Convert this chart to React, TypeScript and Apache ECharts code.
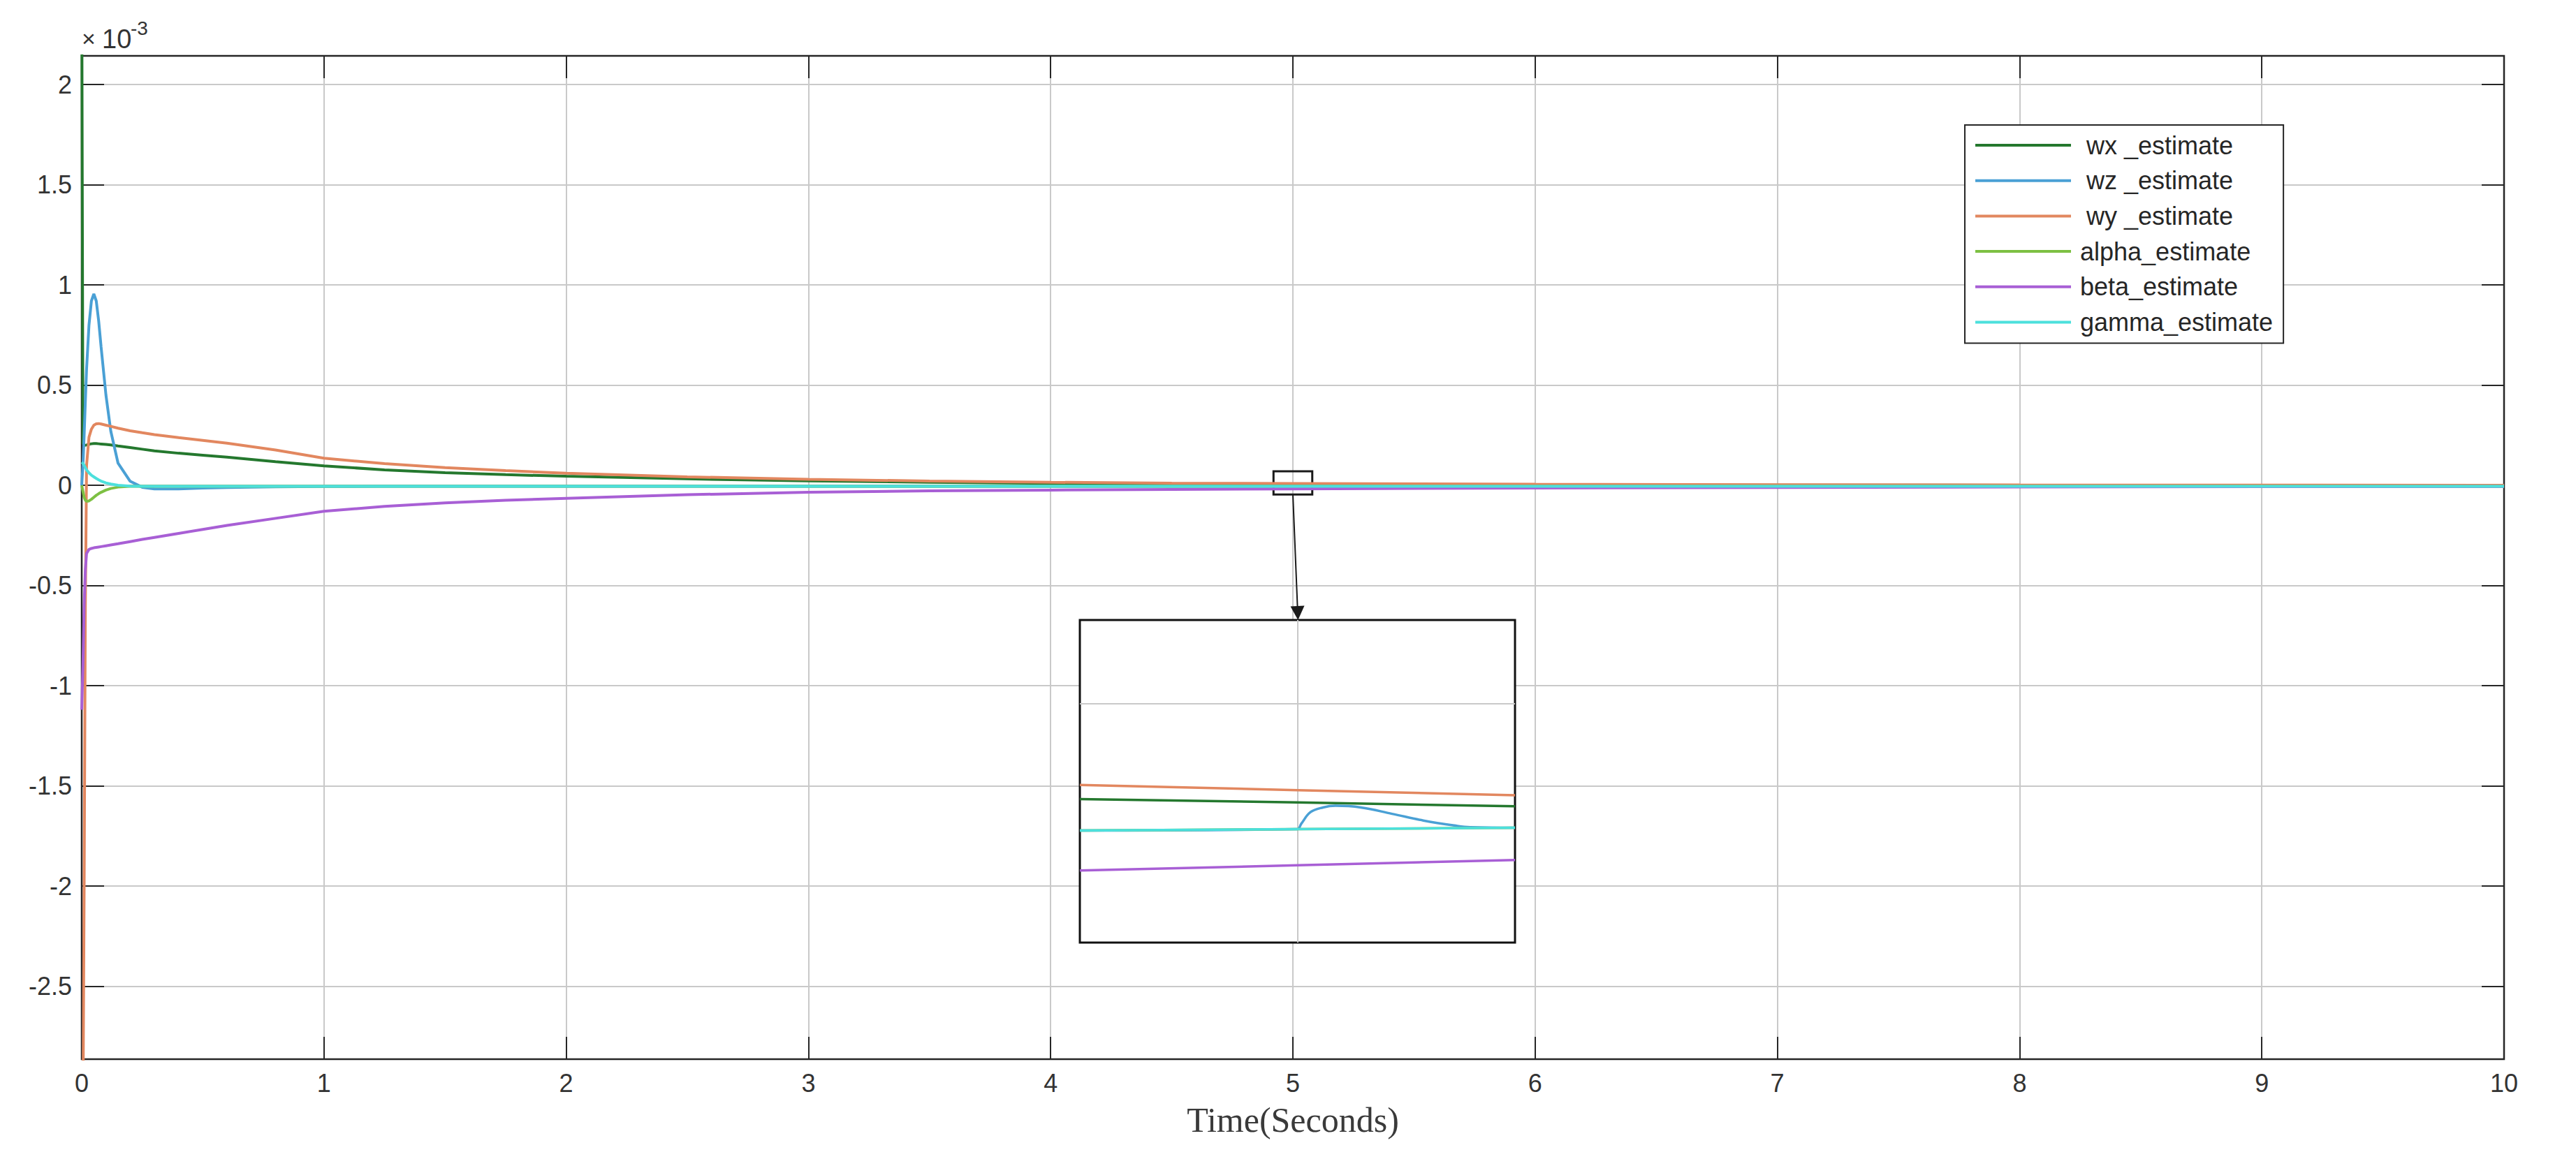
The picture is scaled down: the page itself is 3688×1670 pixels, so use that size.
import React, { useEffect, useRef } from 'react';
import * as echarts from 'echarts';

// ---- main time axis (seconds) ----
const T = [0, 0.005, 0.01, 0.015, 0.02, 0.03, 0.04, 0.05, 0.06, 0.07, 0.08, 0.1, 0.12, 0.15, 0.2, 0.25, 0.3, 0.4, 0.5, 0.6, 0.8, 1, 1.25, 1.5, 1.75, 2, 2.5, 3, 3.5, 4, 4.5, 5, 6, 7, 8, 9, 10];

// ---- series values (x 10^-3) ----
const WX = [2.6, 0.21, 0.2, 0.2, 0.201, 0.205, 0.207, 0.208, 0.208, 0.207, 0.206, 0.204, 0.201, 0.196, 0.188, 0.18, 0.172, 0.16, 0.15, 0.14, 0.118, 0.097, 0.077, 0.063, 0.053, 0.045, 0.032, 0.022, 0.015, 0.01, 0.007, 0.0044, 0.002, 0.001, 0.0005, 0.0003, 0.0002];
const WZ = [0, 0.1, 0.25, 0.42, 0.58, 0.8, 0.92, 0.955, 0.92, 0.82, 0.69, 0.45, 0.27, 0.11, 0.02, -0.01, -0.018, -0.018, -0.014, -0.011, -0.008, -0.006, -0.0055, -0.0055, -0.0055, -0.0055, -0.0055, -0.0055, -0.0055, -0.0055, -0.0055, -0.0054, -0.005, -0.005, -0.005, -0.005, -0.005];
const WY = [-3.5, -3.2, -2.0, -0.6, 0.1, 0.24, 0.28, 0.3, 0.307, 0.308, 0.306, 0.3, 0.294, 0.285, 0.272, 0.262, 0.253, 0.238, 0.224, 0.21, 0.176, 0.135, 0.108, 0.088, 0.073, 0.06, 0.042, 0.03, 0.021, 0.015, 0.011, 0.009, 0.005, 0.003, 0.0015, 0.0008, 0.0004];
const ALPHA = [0, -0.03, -0.06, -0.075, -0.08, -0.078, -0.07, -0.06, -0.05, -0.042, -0.035, -0.024, -0.016, -0.009, -0.005, -0.005, -0.005, -0.005, -0.005, -0.005, -0.005, -0.005, -0.005, -0.005, -0.005, -0.005, -0.005, -0.005, -0.005, -0.005, -0.005, -0.0052, -0.005, -0.005, -0.005, -0.005, -0.005];
const BETA = [-1.12, -0.9, -0.6, -0.42, -0.34, -0.32, -0.315, -0.312, -0.31, -0.308, -0.306, -0.302, -0.298, -0.292, -0.281, -0.27, -0.26, -0.24, -0.22, -0.2, -0.165, -0.13, -0.105, -0.088, -0.075, -0.065, -0.047, -0.035, -0.028, -0.024, -0.021, -0.018, -0.014, -0.011, -0.009, -0.007, -0.006];
const GAMMA = [0.115, 0.11, 0.1, 0.088, 0.077, 0.062, 0.05, 0.042, 0.034, 0.027, 0.021, 0.012, 0.006, 0.0, -0.004, -0.005, -0.005, -0.005, -0.005, -0.005, -0.005, -0.005, -0.005, -0.005, -0.005, -0.005, -0.005, -0.005, -0.005, -0.005, -0.005, -0.0052, -0.005, -0.005, -0.005, -0.005, -0.005];

// ---- zoomed inset (t = 4.92 .. 5.08 s) ----
const INSET_T = [4.92, 5.0, 5.08];
const INSET_WX = [0.0056, 0.0044, 0.003];
const INSET_WY = [0.0107, 0.0088, 0.007];
const INSET_ALPHA = [-0.0057, -0.0052, -0.0047];
const INSET_BETA = [-0.0201, -0.0182, -0.0163];
const INSET_GAMMA = [-0.0057, -0.0052, -0.0047];
const INSET_WZ_T = [4.92, 5.0, 5.0014, 5.0048, 5.0094, 5.014, 5.0233, 5.0348, 5.0463, 5.0578, 5.0635, 5.08];
const INSET_WZ = [-0.0057, -0.0052, -0.0033, 0.0009, 0.0026, 0.0032, 0.0026, 0.0003, -0.0021, -0.0039, -0.0045, -0.0047];

const INSET_X_RANGE = [4.92, 5.08];
const INSET_Y_RANGE = [-0.046, 0.07];
const INSET_GRID_X = 5.0;
const INSET_GRID_Y = 0.0367;
const ARROW_END = [5.02, -0.6375];

// ---- axes ----
const X_RANGE = [0, 10];
const X_STEP = 1;
const Y_RANGE = [-2.864, 2.143];
const Y_STEP = 0.5;

const NAMES = ['wx _estimate', 'wz _estimate', 'wy _estimate', 'alpha_estimate', 'beta_estimate', 'gamma_estimate'];
const COLORS = ['#24782e', '#4aa0d5', '#e2875f', '#7dc043', '#a85fd5', '#4ce0dc'];

const FONT = 'Liberation Sans, Arial, Helvetica, sans-serif';
const AX = '#333333';
const GRID_COLOR = '#c9c9c9';

function pairs(xs: number[], ys: number[]) {
  return xs.map((x, i) => [x, ys[i]]);
}

export default function App() {
  const ref = useRef<HTMLDivElement>(null);
  useEffect(() => {
    const chart = echarts.init(ref.current!, null, { renderer: 'svg' });
    const mainVals = [WX, WZ, WY, ALPHA, BETA, GAMMA];
    const insetData = [
      pairs(INSET_T, INSET_WX),
      pairs(INSET_WZ_T, INSET_WZ),
      pairs(INSET_T, INSET_WY),
      pairs(INSET_T, INSET_ALPHA),
      pairs(INSET_T, INSET_BETA),
      pairs(INSET_T, INSET_GAMMA),
    ];
    const mainSeries: any[] = NAMES.map((name, i) => ({
      name,
      type: 'line',
      xAxisIndex: 0,
      yAxisIndex: 0,
      data: pairs(T, mainVals[i]),
      symbol: 'none',
      clip: true,
      color: COLORS[i],
      lineStyle: { width: 4, color: COLORS[i] },
      silent: true,
    }));
    mainSeries[5].markArea = {
      silent: true,
      itemStyle: { color: 'rgba(0,0,0,0)', borderColor: '#1a1a1a', borderWidth: 3 },
      label: { show: false },
      data: [[{ coord: [INSET_X_RANGE[0], INSET_Y_RANGE[1]] }, { coord: [INSET_X_RANGE[1], INSET_Y_RANGE[0]] }]],
    };
    mainSeries[5].markLine = {
      silent: true,
      symbol: ['none', 'triangle'],
      symbolSize: [20, 20],
      label: { show: false },
      lineStyle: { color: '#1a1a1a', width: 2, type: 'solid' },
      data: [[{ coord: [INSET_GRID_X, INSET_Y_RANGE[0]] }, { coord: ARROW_END }]],
    };
    const insetSeries: any[] = NAMES.map((name, i) => ({
      name,
      type: 'line',
      xAxisIndex: 2,
      yAxisIndex: 2,
      data: insetData[i],
      symbol: 'none',
      smooth: i === 1 ? 0.4 : false,
      clip: true,
      color: COLORS[i],
      lineStyle: { width: 3.5, color: COLORS[i] },
      silent: true,
    }));
    insetSeries[0].markLine = {
      silent: true,
      z: 1,
      symbol: ['none', 'none'],
      label: { show: false },
      lineStyle: { color: GRID_COLOR, width: 2, type: 'solid' },
      data: [{ xAxis: INSET_GRID_X }, { yAxis: INSET_GRID_Y }],
    };

    const tick = { show: true, inside: true, length: 32, lineStyle: { color: '#262626', width: 2 } };

    chart.setOption({
      animation: false,
      backgroundColor: '#ffffff',
      grid: [
        { left: 117, top: 80, width: 3468, height: 1437, show: true, z: 1, backgroundColor: 'rgba(0,0,0,0)', borderColor: '#262626', borderWidth: 2.5 },
        { left: 1546, top: 888, width: 623, height: 462, show: true, z: 1, backgroundColor: '#ffffff', borderColor: '#111111', borderWidth: 3 },
      ],
      xAxis: [
        {
          gridIndex: 0, type: 'value', position: 'bottom', min: X_RANGE[0], max: X_RANGE[1], interval: X_STEP,
          axisLine: { show: false, onZero: false }, axisTick: tick,
          axisLabel: { fontSize: 36, color: AX, fontFamily: FONT, margin: 16 },
          splitLine: { show: true, lineStyle: { color: GRID_COLOR, width: 2 } },
          name: 'Time(Seconds)', nameLocation: 'middle', nameGap: 62,
          nameTextStyle: { fontSize: 50, color: '#3a3a3a', fontFamily: 'Liberation Serif, Times New Roman, serif' },
        },
        {
          gridIndex: 0, type: 'value', position: 'top', min: X_RANGE[0], max: X_RANGE[1], interval: X_STEP,
          axisLine: { show: false, onZero: false }, axisTick: tick, axisLabel: { show: false }, splitLine: { show: false },
        },
        { gridIndex: 1, type: 'value', min: INSET_X_RANGE[0], max: INSET_X_RANGE[1], show: false, splitLine: { show: false } },
      ],
      yAxis: [
        {
          gridIndex: 0, type: 'value', position: 'left', min: Y_RANGE[0], max: Y_RANGE[1],
          splitNumber: 10, minInterval: Y_STEP, maxInterval: Y_STEP,
          axisLine: { show: false, onZero: false }, axisTick: tick,
          axisLabel: { fontSize: 36, color: AX, fontFamily: FONT, margin: 14, showMinLabel: false, showMaxLabel: false },
          splitLine: { show: true, lineStyle: { color: GRID_COLOR, width: 2 } },
        },
        {
          gridIndex: 0, type: 'value', position: 'right', min: Y_RANGE[0], max: Y_RANGE[1],
          splitNumber: 10, minInterval: Y_STEP, maxInterval: Y_STEP,
          axisLine: { show: false, onZero: false }, axisTick: tick, axisLabel: { show: false }, splitLine: { show: false },
        },
        { gridIndex: 1, type: 'value', min: INSET_Y_RANGE[0], max: INSET_Y_RANGE[1], show: false, splitLine: { show: false } },
      ],
      legend: {
        orient: 'vertical',
        left: 2813,
        top: 179,
        padding: [11, 15, 12, 15],
        itemWidth: 137,
        itemHeight: 4,
        itemGap: 14.7,
        icon: 'rect',
        backgroundColor: '#ffffff',
        borderColor: '#262626',
        borderWidth: 2,
        selectedMode: false,
        textStyle: { fontSize: 36, lineHeight: 36, color: '#262626', fontFamily: FONT, padding: [0, 0, 0, 8] },
        data: NAMES.map((n, i) => (i < 3 ? { name: n, textStyle: { padding: [0, 0, 0, 17] } } : { name: n })),
      },
      graphic: [
        { type: 'text', left: 117, top: 38, style: { text: '×', fontSize: 34, fill: AX, fontFamily: FONT } },
        { type: 'text', left: 146, top: 37, style: { text: '10', fontSize: 38, fill: AX, fontFamily: FONT } },
        { type: 'text', left: 187, top: 26, style: { text: '-3', fontSize: 28, fill: AX, fontFamily: FONT } },
      ],
      series: [...mainSeries, ...insetSeries],
    });
    return () => chart.dispose();
  }, []);
  return <div ref={ref} style={{ position: 'absolute', left: 0, top: 0, width: 3688, height: 1670, background: '#fff' }} />;
}
